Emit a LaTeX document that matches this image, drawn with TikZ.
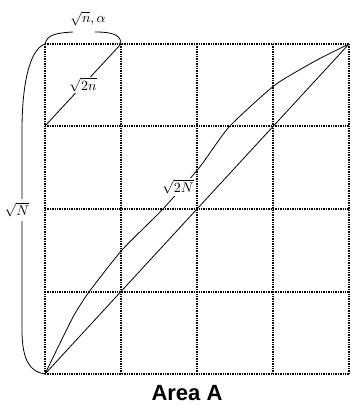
\documentclass[tikz,border=0pt]{standalone}
\usepackage{amsmath}
\usepackage{graphicx}
\usepackage{fontspec}
\newfontfamily\titlefont{Liberation Sans}
\usetikzlibrary{positioning,calc}
\newcommand{\bigmath}[1]{\scalebox{1.4}{$#1$}}

\begin{document}
\begin{tikzpicture}[x=1pt,y=-1pt,
    gridline/.style={densely dotted, line width=1.4pt},
    curveline/.style={line width=0.8pt},
    mathlbl/.style={fill=white, inner sep=1pt}]
  \useasboundingbox (0,0) rectangle (351,406);
  % grid corners
  \foreach \i/\x in {0/45,1/121,2/197,3/273,4/349}
    \foreach \j/\y in {0/44,1/126,2/209,3/292,4/374}
      \coordinate (g-\i-\j) at (\x,\y);
  \foreach \i in {0,...,4} {
    \draw[gridline] (g-\i-0) -- (g-\i-4);
    \draw[gridline] (g-0-\i) -- (g-4-\i);
  }
  % lines
  \draw[curveline] (g-0-4) -- (g-4-0);
  \draw[curveline] (g-0-1) -- node[mathlbl] (ln) {\bigmath{\sqrt{2n}}} (g-1-0);
  \draw[curveline] plot[smooth, tension=0.35] coordinates {(45,374) (73,317) (89,292) (122,250) (162,210) (199,168) (229,127) (275,85) (317,60) (349,44)};
  \node[mathlbl, inner sep=2pt] (lN2) at (178,187) {\bigmath{\sqrt{2N}}};
  % braces
  \draw[curveline] (g-0-0) .. controls (28,50) and (22,90) .. (22,130) -- (22,330) .. controls (22,360) and (30,372) .. (g-0-4);
  \node[mathlbl, inner sep=4pt] (lN) at (17,210) {\bigmath{\sqrt{N}}};
  \coordinate (tl) at (73,32);
  \coordinate (tr) at (95,32);
  \draw[curveline] (g-0-0) .. controls (47,35) and (55,33) .. (tl);
  \draw[curveline] (tr) .. controls (113,32) and (121,35) .. (g-1-0);
  \node[mathlbl, fill=none, inner sep=0pt] (la) at (88,19) {\bigmath{\sqrt{n},\alpha}};
  \node[font=\titlefont\bfseries\fontsize{22}{24}\selectfont] (title) at (187,393) {Area A};
\end{tikzpicture}
\end{document}
